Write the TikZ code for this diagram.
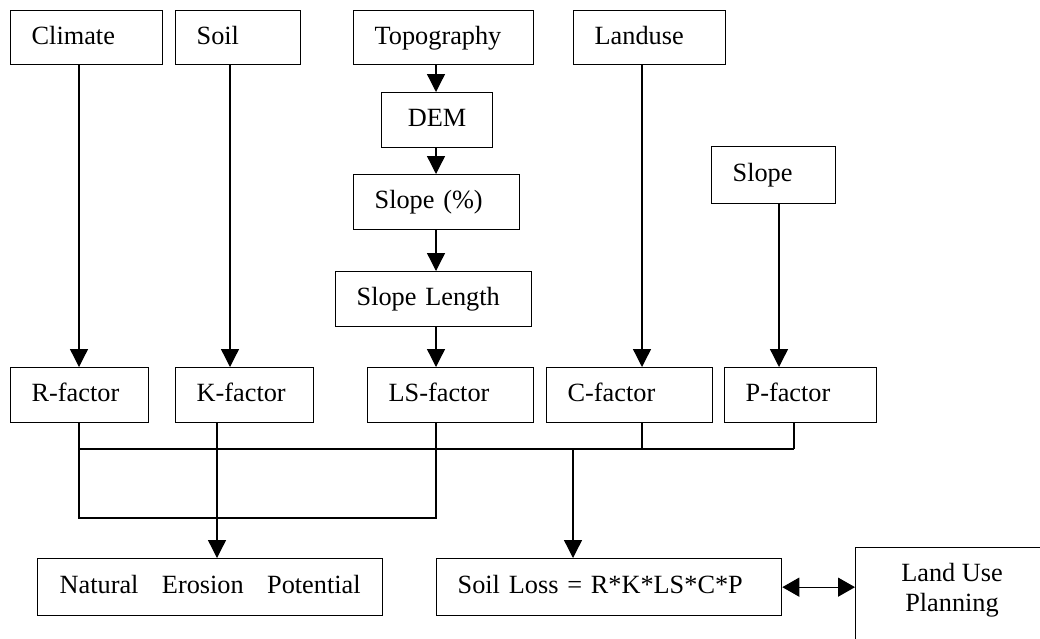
\documentclass[tikz,border=0pt]{standalone}
\usepackage{fontspec}
\setmainfont{Liberation Serif}
\usetikzlibrary{arrows.meta}
\begin{document}
\begin{tikzpicture}[x=1pt,y=-1pt,
  every node/.style={font=\fontsize{26.3}{30}\selectfont},
  fbox/.style={draw, line width=1.3pt, anchor=north west, inner xsep=21pt, inner ysep=0pt,
    text height=18pt, text depth=5pt, align=left},
  ln/.style={line width=1.3pt},
  arr/.style={line width=1.3pt, -{Triangle[length=18pt,width=18pt]}},
  darr/.style={line width=1.3pt, {Triangle[length=17pt,width=19pt]}-{Triangle[length=17pt,width=19pt]}}]
\clip (0,0) rectangle (1040,638);
\fill[white] (0,0) rectangle (1040,638);

% top row
\node[fbox, minimum width=152pt, minimum height=54pt, text width=110pt] (climate) at (10,10) {Climate};
\node[fbox, minimum width=125pt, minimum height=54pt, text width=83pt] (soil) at (175,10) {Soil};
\node[fbox, minimum width=180pt, minimum height=54pt, text width=138pt] (topo) at (353,10) {Topography};
\node[fbox, minimum width=152pt, minimum height=54pt, text width=110pt] (landuse) at (573,10) {Landuse};

% topography chain
\node[fbox, minimum width=111pt, minimum height=55pt, text width=69pt, align=center] (dem) at (381,92) {DEM};
\node[fbox, minimum width=166pt, minimum height=55pt, text width=124pt] (slopepct) at (353,174) {Slope (\%)};
\node[fbox, minimum width=196pt, minimum height=55pt, text width=154pt] (slopelen) at (335,271) {Slope Length};
\node[fbox, minimum width=124pt, minimum height=57pt, text width=82pt] (slope) at (711,146) {Slope};

% factors
\node[fbox, minimum width=138pt, minimum height=55pt, text width=96pt] (rfac) at (10,367) {R-factor};
\node[fbox, minimum width=138pt, minimum height=55pt, text width=96pt] (kfac) at (175,367) {K-factor};
\node[fbox, minimum width=166pt, minimum height=55pt, text width=124pt] (lsfac) at (367,367) {LS-factor};
\node[fbox, minimum width=166pt, minimum height=55pt, text width=124pt] (cfac) at (546,367) {C-factor};
\node[fbox, minimum width=152pt, minimum height=55pt, text width=110pt] (pfac) at (724,367) {P-factor};

% results
\node[fbox, minimum width=345pt, minimum height=57pt, text width=301pt] (nep) at (37,558)
  {\hbox to 301pt{Natural\hfill Erosion\hfill Potential}};
\node[fbox, minimum width=345pt, minimum height=57pt, text width=303pt] (sloss) at (436,558)
  {Soil Loss = R*K*LS*C*P};
\node[draw, line width=1.3pt, anchor=north west, minimum width=200pt, minimum height=120pt, inner sep=0pt] (lupbox) at (855,547) {};
\node[align=center, inner sep=0pt] (lup) at (952,590) {Land Use\\Planning};

% column coordinates
\coordinate (c1) at (79,0);
\coordinate (c2) at (230,0);
\coordinate (c3) at (436,0);
\coordinate (c4) at (642,0);
\coordinate (c5) at (779,0);
\coordinate (c6) at (794,0);
\coordinate (ck) at (217,0);
\coordinate (cs) at (573,0);
\coordinate (bus) at (0,449);
\coordinate (low) at (0,518);

% arrows down to factors
\draw[arr] (climate.south -| c1) -- (rfac.north -| c1);
\draw[arr] (soil.south -| c2) -- (kfac.north -| c2);
\draw[arr] (topo.south -| c3) -- (dem.north -| c3);
\draw[arr] (dem.south -| c3) -- (slopepct.north -| c3);
\draw[arr] (slopepct.south -| c3) -- (slopelen.north -| c3);
\draw[arr] (slopelen.south -| c3) -- (lsfac.north -| c3);
\draw[arr] (landuse.south -| c4) -- (cfac.north -| c4);
\draw[arr] (slope.south -| c5) -- (pfac.north -| c5);

% lower connectors
\draw[ln] (rfac.south -| c1) -- (low -| c1) -- (low -| c3) -- (lsfac.south -| c3);
\draw[ln] (bus -| c1) -- (bus -| c6);
\draw[ln] (cfac.south -| c4) -- (bus -| c4);
\draw[ln] (pfac.south -| c6) -- (bus -| c6);
\draw[arr] (kfac.south -| ck) -- (nep.north -| ck);
\draw[arr] (bus -| cs) -- (sloss.north -| cs);
\draw[darr] (sloss.east) -- (sloss.east -| lupbox.west);
\end{tikzpicture}
\end{document}
